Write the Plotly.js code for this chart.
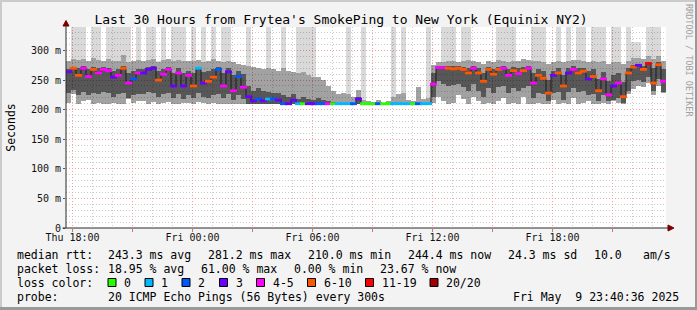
<!DOCTYPE html>
<html><head><meta charset="utf-8">
<script src="https://cdn.plot.ly/plotly-3.0.1.min.js"></script>
<style>html,body{margin:0;padding:0;background:#f3f3f3;}#chart{width:697px;height:310px;}</style>
</head><body><div id="chart"></div>
<script>
// ---- time axis ----
const startUtc = Date.UTC(2025, 4, 8, 17, 40, 36);   // Thu May 8 17:40:36
const rangeStart = '2025-05-08 17:40:36';
const rangeEnd = '2025-05-09 23:40:36';
const binMinutes = 15;
const xTickVals = ['2025-05-08 18:00','2025-05-08 21:00','2025-05-09 00:00','2025-05-09 03:00','2025-05-09 06:00','2025-05-09 09:00','2025-05-09 12:00','2025-05-09 15:00','2025-05-09 18:00','2025-05-09 21:00'];
const xTickText = ['Thu 18:00','','Fri 00:00','','Fri 06:00','','Fri 12:00','','Fri 18:00',''];
const yTickVals = [0,50,100,150,200,250,300];
const yTickText = ['0','50 m','100 m','150 m','200 m','250 m','300 m'];

// ---- series (ms), one value per 15-minute bin ----
const medianRtt = [
 264,270,258,270,256,268,262,268,266,255, 258,270,245,252,262,262,268,270,250,260,
 268,240,262,240,258,240,270,245,248,255, 268,240,264,232,256,238,
 222,215,218,215,218,218,216,210,210,216, 210,210,210,210,210,210,210,210,210,210,
 210,210,218,210,210,210,210,210,210,210, 210,210,210,210,210,210,210,
 243,271,271,270,269,270,268,262,270,262, 248,268,260,268,270,258,266,261,266,270,
 245,258,253,228,258,262,240,262,268,262, 265,252,256,232,252,225,240,245,222,262,
 272,275,268,278,245,276,248];
const lossBucket = [
 3,5,5,4,4,5,4,4,4,3, 4,5,4,2,4,3,3,3,5,4, 4,3,4,3,4,5,1,3,5,5, 2,4,3,4,2,4,
 3,3,2,3,1,2,3,2,3,3, 1,0,3,3,2,2,4,0,1,1, 1,2,3,0,0,0,2,0,0,1, 1,1,1,0,2,1,1,
 4,4,4,5,5,5,5,5,4,5, 5,5,5,5,4,4,5,4,5,4, 4,5,5,5,3,5,5,3,4,5, 5,3,5,5,4,4,3,4,5,5,
 5,3,5,6,5,5,4];
const smokeMin = [
 212,226,210,214,216,210,211,210,210,212, 210,210,218,212,214,215,210,213,210,211,
 213,210,210,211,212,210,213,212,210,211, 210,210,210,210,210,210,
 209,209,209,209,209,209,209,209,209,209, 209,209,209,209,209,209,209,209,209,209,
 209,209,209,209,209,209,209,209,209,209, 209,209,209,209,209,209,209,
 212,222,215,210,212,225,218,210,222,215, 210,212,210,214,220,210,212,210,222,210,
 210,212,210,210,216,210,212,210,220,210, 212,215,210,210,212,210,214,212,210,226,
 235,240,238,245,225,240,228];
const smokeCoreLo = [
 228,234,224,230,224,228,226,230,228,222, 226,228,220,224,226,226,230,228,222,226,
 228,220,226,218,224,220,228,222,220,224, 226,220,226,216,224,218,
 209,209,209,209,209,209,209,209,209,209, 209,209,209,209,209,209,209,209,209,209,
 209,209,209,209,209,209,209,209,209,209, 209,209,209,209,209,209,209,
 222,248,244,240,242,244,238,232,244,232, 222,236,228,238,240,228,236,232,236,240,
 220,228,226,214,228,230,216,230,236,230, 232,224,226,214,224,214,216,220,212,232,
 248,250,246,256,232,252,230];
const smokeCoreHi = [
 268,272,270,274,268,272,270,272,270,266, 268,274,262,266,268,268,272,274,266,268,
 272,262,270,262,266,262,272,264,266,268, 272,262,270,258,266,260,
 240,232,236,232,230,228,228,224,222,226, 218,222,218,216,220,216,214,213,212,212,
 212,212,222,211,210,210,211,210,210,211, 211,211,210,210,212,210,210,
 262,274,274,274,274,274,272,270,274,270, 262,272,268,272,274,268,272,270,272,274,
 262,268,266,250,266,270,258,270,274,270, 270,266,268,252,264,248,258,262,246,270,
 276,278,274,280,270,280,268];
const smokeTop = [
 282,285,284,286,282,288,284,282,285,283, 282,292,280,282,284,282,284,286,280,284,
 286,282,284,282,283,282,284,280,282,285, 282,280,282,280,278,276,
 274,272,270,268,270,268,266,270,266,264, 262,264,258,256,256,250,240,232,226,228,
 226,222,234,216,214,213,216,212,214,222, 226,228,216,214,238,218,220,
 275,280,280,282,282,280,282,284,282,280, 278,282,280,284,282,280,283,282,285,284,
 282,282,280,278,280,282,280,282,284,284, 282,280,282,280,282,278,280,280,278,282,
 288,288,285,290,286,290,282];
const smokeMax = [
 282,350,350,350,282,350,350,282,350,350, 350,350,350,282,350,282,350,350,282,350,
 286,350,350,350,283,350,284,350,282,350, 282,350,350,280,278,276,
 350,272,270,268,350,268,266,350,266,264, 350,350,350,350,256,250,240,232,226,228,
 350,222,234,350,214,213,216,212,214,350, 226,350,216,214,238,218,350,
 275,280,350,350,350,280,350,350,282,280, 278,282,280,350,350,350,350,282,285,284,
 350,350,350,278,280,350,280,350,284,350, 350,280,350,350,350,278,350,350,278,350,
 315,315,285,350,350,350,282];

const lossColors = ['#26ff00','#00b8ff','#0059ff','#6a00ff','#ff00ff','#ff5500','#ff0000','#a00000'];
const lossLabels = ['0','1','2','3','4-5','6-10','11-19','20/20'];
const rttStats = ['243.3 ms avg','281.2 ms max','210.0 ms min','244.4 ms now','24.3 ms sd','10.0','am/s'];
const lossStats = ['18.95 % avg','61.00 % max','0.00 % min','23.67 % now'];
const probeText = '20 ICMP Echo Pings (56 Bytes) every 300s';
const stampText = 'Fri May\u00a0\u00a09 23:40:36 2025';
const titleText = "Last 30 Hours from Frytea's SmokePing to New York (Equinix NY2)";

// ---- layout helpers (pixel -> paper) ----
const PL = 66, PT = 27, PW = 600, PH = 201;
const px = p => (p - PL) / PW;
const py = p => (PT + PH - p) / PH;
const MONO = 'DejaVu Sans Mono';

function fmt(ms){ return new Date(ms).toISOString().replace('T',' ').slice(0,19); }
const binTimes = medianRtt.map((_, i) => fmt(startUtc + (i*binMinutes + binMinutes/2) * 60000));
const barW = binMinutes * 60000;

function band(lo, hi, color){
  return {type:'bar', x:binTimes, base:lo, y:hi.map((h,i)=>Math.max(h-lo[i],0)), width:barW,
    marker:{color:color, line:{width:0}}, hoverinfo:'skip', showlegend:false};
}

const traces = [
  band(smokeMin, smokeMax, 'rgba(0,0,0,0.15)'),
  band(smokeMin, smokeTop, 'rgba(0,0,0,0.25)'),
  band(smokeCoreLo, smokeCoreHi, 'rgba(0,0,0,0.46)'),
  {type:'scatter', mode:'lines', x:binTimes, y:medianRtt, line:{shape:'hvh', color:'#1c1c1c', width:1},
   hoverinfo:'skip', showlegend:false},
  {type:'scatter', mode:'markers', x:binTimes, y:medianRtt,
   marker:{symbol:'line-ew', size:5, line:{width:2.8, color:lossBucket.map(l=>lossColors[l])}},
   hoverinfo:'skip', showlegend:false}
];

const annotations = [];
const shapes = [];
function txt(x, y, text, opts){
  annotations.push(Object.assign({xref:'paper', yref:'paper', x:px(x), y:py(y), text:text, showarrow:false,
    xanchor:'left', yanchor:'middle', borderpad:0, font:{family:MONO, size:11.5, color:'#000'}}, opts||{}));
}
// legend rows
txt(16, 254.5, 'median rtt:');
const rttX = [107, 207, 307, 407, 507, 593, 642];
rttStats.forEach((s,i)=>txt(rttX[i], 254.5, s));
txt(16, 268.5, 'packet loss:');
const lossX = [107, 200, 293, 379];
lossStats.forEach((s,i)=>txt(lossX[i], 268.5, s));
txt(16, 282.5, 'loss color:');
const boxX = [108, 145, 182, 219.5, 256.5, 307.5, 365.5, 430];
lossLabels.forEach((lab,i)=>{
  shapes.push({type:'rect', xref:'paper', yref:'paper', x0:px(boxX[i]), x1:px(boxX[i]+8), y0:py(286.5), y1:py(278.5),
    fillcolor:lossColors[i], line:{color:'#000', width:1}});
  txt(boxX[i]+15, 282.5, lab);
});
txt(16, 296.5, 'probe:');
txt(107, 296.5, probeText);
txt(680, 296.5, stampText, {xanchor:'right'});
// watermark
annotations.push({xref:'paper', yref:'paper', x:px(689), y:py(60), xanchor:'center', yanchor:'middle',
  text:'RRDTOOL / TOBI OETIKER', textangle:90,
  showarrow:false, font:{family:MONO, size:8.5, color:'#a0a0a0'}});

// axis extensions and arrows
const axC = '#2a2a2a', arC = '#7a0000';
shapes.push({type:'line', xref:'paper', yref:'paper', x0:px(62.5), x1:px(669), y0:0, y1:0, line:{color:axC, width:1}});
shapes.push({type:'line', xref:'paper', yref:'paper', x0:px(66), x1:px(66), y0:0, y1:py(24), line:{color:axC, width:1}});
shapes.push({type:'path', xref:'paper', yref:'paper', fillcolor:arC, line:{color:arC, width:1},
  path:`M ${px(63)},${py(26)} L ${px(69)},${py(26)} L ${px(66)},${py(20.5)} Z`});
shapes.push({type:'path', xref:'paper', yref:'paper', fillcolor:arC, line:{color:arC, width:1},
  path:`M ${px(668)},${py(225)} L ${px(668)},${py(231)} L ${px(674)},${py(228)} Z`});
// frame shading
shapes.push({type:'rect', xref:'paper', yref:'paper', x0:px(0), x1:px(697), y0:py(2), y1:py(0), fillcolor:'#cbcbcb', line:{width:0}});
shapes.push({type:'rect', xref:'paper', yref:'paper', x0:px(0), x1:px(2), y0:py(310), y1:py(0), fillcolor:'#cbcbcb', line:{width:0}});
shapes.push({type:'rect', xref:'paper', yref:'paper', x0:px(695), x1:px(697), y0:py(310), y1:py(0), fillcolor:'#999999', line:{width:0}});
shapes.push({type:'rect', xref:'paper', yref:'paper', x0:px(0), x1:px(697), y0:py(310), y1:py(307), fillcolor:'#999999', line:{width:0}});

const redGrid = '#f2a0a0', grayGrid = '#cccccc', dash = '1px,2px';
const layout = {
  width:697, height:310,
  margin:{l:PL, r:697-PL-PW, t:PT, b:310-PT-PH, pad:0},
  paper_bgcolor:'#f3f3f3', plot_bgcolor:'#ffffff',
  barmode:'overlay', bargap:0, showlegend:false,
  title:{text:titleText, font:{family:MONO, size:13, color:'#000'}, xref:'container', yref:'container',
    x:341/697, xanchor:'center', y:1-19/310, yanchor:'middle'},
  xaxis:{type:'date', range:[rangeStart, rangeEnd], tickmode:'array', tickvals:xTickVals, ticktext:xTickText,
    showgrid:true, gridcolor:redGrid, griddash:dash, gridwidth:1,
    ticks:'outside', ticklen:3, tickcolor:'#e07070', showline:false, zeroline:false,
    ticklabelstandoff:-3,
    tickfont:{family:MONO, size:10, color:'#111'},
    minor:{tickmode:'linear', tick0:'2025-05-08 18:00', dtick:3600000, showgrid:true, gridcolor:grayGrid, griddash:dash, ticks:''},
    fixedrange:true},
  yaxis:{range:[0, 339.7], tickmode:'array', tickvals:yTickVals, ticktext:yTickText,
    showgrid:true, gridcolor:redGrid, griddash:dash, gridwidth:1,
    ticks:'outside', ticklen:2, tickcolor:'#555', showline:false, zeroline:false,
    tickfont:{family:MONO, size:10, color:'#111'},
    minor:{tickmode:'linear', tick0:0, dtick:10, showgrid:true, gridcolor:grayGrid, griddash:dash, ticks:''},
    title:{text:'Seconds', font:{family:MONO, size:11.5, color:'#000'}, standoff:12},
    fixedrange:true},
  shapes:shapes, annotations:annotations
};
Plotly.newPlot('chart', traces, layout, {displayModeBar:false, staticPlot:true});
</script></body></html>
